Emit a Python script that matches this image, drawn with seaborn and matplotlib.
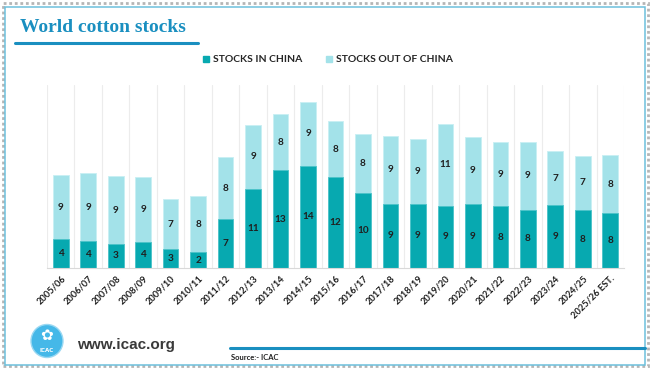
import numpy as np
import pandas as pd
import matplotlib.pyplot as plt
import seaborn as sns
from matplotlib.patches import Patch, Ellipse, Rectangle
from matplotlib.lines import Line2D

seasons = ["2005/06", "2006/07", "2007/08", "2008/09", "2009/10", "2010/11", "2011/12",
           "2012/13", "2013/14", "2014/15", "2015/16", "2016/17", "2017/18", "2018/19",
           "2019/20", "2020/21", "2021/22", "2022/23", "2023/24", "2024/25", "2025/26 EST."]
china = [3.97, 3.65, 3.29, 3.56, 2.65, 2.14, 6.71, 10.86, 13.33, 14.0, 12.42, 10.3,
         8.77, 8.81, 8.53, 8.72, 8.45, 7.99, 8.63, 7.9, 7.53]
outside = [8.67, 9.32, 9.22, 8.81, 6.71, 7.72, 8.4, 8.63, 7.67, 8.74, 7.67, 8.0,
           9.3, 8.86, 11.15, 9.18, 8.72, 9.27, 7.3, 7.44, 7.85]

dark = "#07a9b0"
light = "#a3e2e9"
blue = "#1a8fc0"

df = pd.DataFrame({"season": seasons, "china": china, "outside": outside})
df["total"] = df["china"] + df["outside"]

sns.set_style("white")
plt.rcParams["font.family"] = ["Lato", "DejaVu Sans"]

fig = plt.figure(figsize=(6.51, 3.69), dpi=100)
ax = fig.add_axes([47 / 651, 101 / 369, 577 / 651, 183 / 369])

sns.barplot(data=df, x="season", y="total", color=light, width=0.57, saturation=1,
            edgecolor="#c8eff3", linewidth=0.6, ax=ax)
sns.barplot(data=df, x="season", y="china", color=dark, width=0.57, saturation=1,
            edgecolor="#4cc3c9", linewidth=0.6, ax=ax)

# value labels
for i, (c, o) in enumerate(zip(china, outside)):
    ax.text(i, c / 2, f"{c:.0f}", ha="center", va="center", fontsize=7.2,
            fontweight="bold", color="#1f1f1f")
    ax.text(i, c + o / 2, f"{o:.0f}", ha="center", va="center", fontsize=7.2,
            fontweight="bold", color="#1f1f1f")

ax.set_xlim(-0.5, len(seasons) - 0.5)
ax.set_ylim(0, 25)
ax.set_xlabel("")
ax.set_ylabel("")
ax.set_yticks([])
ax.set_xticks(range(len(seasons)))
ax.set_xticklabels(seasons, rotation=45, ha="right", rotation_mode="anchor",
                   fontsize=6.7, fontweight="bold", color="#1f1f1f")
ax.tick_params(axis="x", length=0, pad=4)
ax.set_xticks(np.arange(-0.5, len(seasons)), minor=True)
ax.tick_params(axis="x", which="minor", length=0)
ax.grid(which="minor", axis="x", color="#ececec", linewidth=0.8)
ax.set_axisbelow(True)
for s in ["top", "left", "right"]:
    ax.spines[s].set_visible(False)
ax.spines["bottom"].set_color("#d9d9d9")
ax.spines["bottom"].set_linewidth(0.8)

# legend
handles = [Patch(color=dark, label="STOCKS IN CHINA"),
           Patch(color=light, label="STOCKS OUT OF CHINA")]
fig.legend(handles=handles, loc="center", bbox_to_anchor=(328 / 651, 1 - 60 / 369),
           ncol=2, frameon=False, handlelength=0.6, handleheight=0.6,
           handletextpad=0.4, columnspacing=2.2,
           prop={"family": "Lato", "weight": "bold", "size": 7.5})

# title and underline
fig.text(20 / 651, 1 - 27 / 369, "World cotton stocks", fontsize=14, fontweight="bold",
         family="Liberation Serif", color=blue, va="center", ha="left")
fig.add_artist(Line2D([15 / 651, 198 / 651], [1 - 43 / 369, 1 - 43 / 369],
                      color=blue, linewidth=2.2, transform=fig.transFigure))

# frame
fig.add_artist(Rectangle((3 / 651, 3 / 369), 645 / 651, 363 / 369, fill=False,
                         edgecolor="#b5b5b5", linewidth=2, linestyle=(0, (1, 1)),
                         transform=fig.transFigure))
fig.add_artist(Rectangle((5 / 651, 4 / 369), 640 / 651, 358 / 369, fill=False,
                         edgecolor="#6cc0dc", linewidth=1.1, transform=fig.transFigure))

# footer logo
fig.add_artist(Ellipse((47 / 651, 1 - 341 / 369), 32 / 651, 33 / 369,
                       transform=fig.transFigure, facecolor="#45b8e8",
                       edgecolor="#9ad8f2", linewidth=1))
fig.text(47 / 651, 1 - 351 / 369, "ICAC", fontsize=4, fontweight="bold", color="white",
         ha="center", va="center", family="DejaVu Sans")
fig.text(47 / 651, 1 - 336 / 369, "\u273f", fontsize=11, color="white",
         ha="center", va="center", family="DejaVu Sans")
fig.text(77 / 651, 1 - 345 / 369, "www.icac.org", fontsize=11, color="#3a3a3a",
         ha="left", va="center", family="Liberation Sans", fontweight="bold")
fig.add_artist(Line2D([230 / 651, 645 / 651], [1 - 348 / 369, 1 - 348 / 369],
                      color=blue, linewidth=2.2, transform=fig.transFigure))
fig.text(231 / 651, 1 - 357 / 369, "Source:- ICAC", fontsize=5.5, fontweight="bold",
         color="#1f1f1f", ha="left", va="center")

fig.savefig("out.png", dpi=100)
